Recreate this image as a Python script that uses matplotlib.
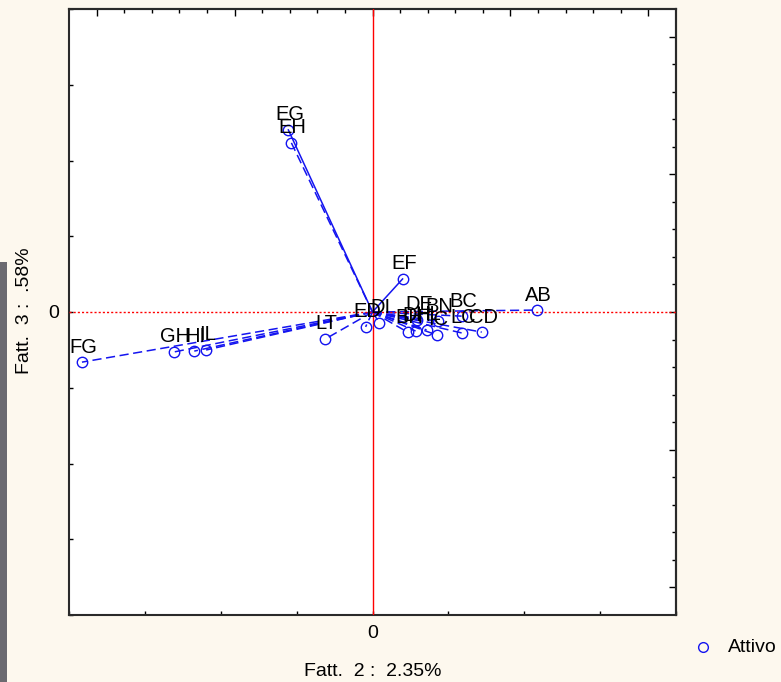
import matplotlib
matplotlib.use("Agg")
import matplotlib.pyplot as plt
from matplotlib.lines import Line2D
from matplotlib.patches import Rectangle
import numpy as np

plt.rcParams['font.family'] = ['Liberation Sans', 'DejaVu Sans']

# factor loadings (Fatt. 2, Fatt. 3) for each variable
labels = ['FG', 'GH', 'HI', 'IL', 'LT', 'EG', 'EH', 'EF', 'AB', 'BC',
          'CD', 'LC', 'IC', 'HL', 'DH', 'BH', 'DI', 'ED', 'DE', 'BN']
fatt2 = [-1.053, -0.719, -0.646, -0.603, -0.171, -0.305, -0.294, 0.109, 0.595, 0.323,
         0.396, 0.323, 0.232, 0.196, 0.156, 0.127, 0.025, -0.025, 0.163, 0.236]
fatt3 = [-0.182, -0.145, -0.142, -0.138, -0.098, 0.661, 0.614, 0.120, 0.007, -0.015,
         -0.073, -0.076, -0.083, -0.065, -0.069, -0.073, -0.040, -0.054, -0.029, -0.033]
solid = ['EG', 'EF']

bg = '#fdf8ee'
blue = '#1414f0'

fig = plt.figure(figsize=(7.81, 6.82), dpi=100, facecolor=bg)
ax = fig.add_axes([69/781, 1 - 615/682, 607/781, 606/682])
ax.set_facecolor('white')

lim = 1.1
ax.set_xlim(-lim, lim)
ax.set_ylim(-lim, lim)

ax.axhline(0, color='red', lw=1, ls=(0, (1.5, 1.5)), zorder=3)
ax.axvline(0, color='red', lw=1, zorder=3)

for lab, x, y in zip(labels, fatt2, fatt3):
    ls = '-' if lab in solid else (0, (6, 3))
    ax.plot([0, x], [0, y], color=blue, lw=1.1, ls=ls, zorder=2)
ax.plot(fatt2, fatt3, 'o', ms=7.5, mfc='none', mec=blue, mew=1, zorder=4)

for lab, x, y in zip(labels, fatt2, fatt3):
    ax.annotate(lab, (x, y), xytext=(1, 4), textcoords='offset points',
                ha='center', va='bottom', fontsize=14.5, zorder=5)

# left / bottom: only zero labelled
step = lim / 4
ticks = np.arange(-4, 5) * step
ax.set_xticks(ticks)
ax.set_yticks(ticks)
ax.set_xticklabels(['0' if abs(t) < 1e-9 else '' for t in ticks])
ax.set_yticklabels(['0' if abs(t) < 1e-9 else '' for t in ticks])
ax.tick_params(direction='in', length=3, width=1, labelsize=14, pad=7)

# top / right: major 0.5, minor 0.1
for sec in (ax.secondary_xaxis('top'), ax.secondary_yaxis('right')):
    sec.set_ticks(np.arange(-1.0, 1.01, 0.5))
    sec.set_ticks(np.arange(-1.0, 1.01, 0.1), minor=True)
    sec.tick_params(which='major', direction='in', length=5, width=1)
    sec.tick_params(which='minor', direction='in', length=3, width=1)
    sec.tick_params(which='both', labeltop=False, labelright=False,
                    labelbottom=False, labelleft=False)
    for sp in sec.spines.values():
        sp.set_linewidth(1.5)
        sp.set_color('#2a2a2a')

for sp in ax.spines.values():
    sp.set_linewidth(1.5)
    sp.set_color('#2a2a2a')

fig.text(373/781, 1 - 672/682, 'Fatt.  2 :  2.35%', ha='center', va='center', fontsize=14)
fig.text(25/781, 1 - 311/682, 'Fatt.  3 :  .58%', ha='center', va='center',
         rotation=90, fontsize=14)

# grey strip at the left edge
fig.add_artist(Rectangle((0, 0), 7/781, 1 - 262/682, transform=fig.transFigure,
                         facecolor='#6b6a70', edgecolor='none'))

# legend
fig.add_artist(Line2D([703/781], [1 - 647/682], transform=fig.transFigure,
                      marker='o', ms=7, mfc='none', mec=blue, mew=1, ls='none'))
fig.text(728/781, 1 - 647/682, 'Attivo', ha='left', va='center', fontsize=14)

fig.savefig('out.png', dpi=100, facecolor=bg)
